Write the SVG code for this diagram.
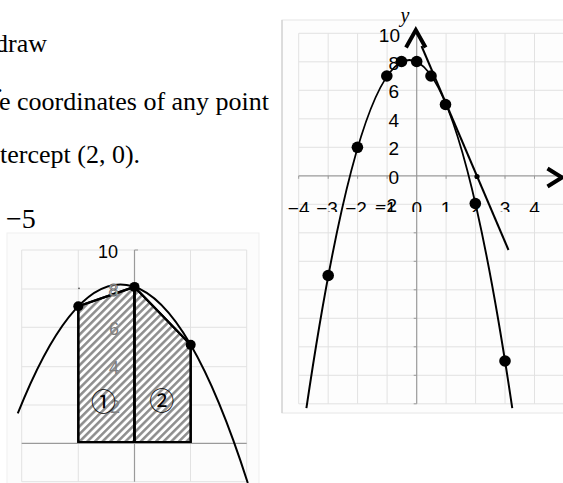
<svg xmlns="http://www.w3.org/2000/svg" width="563" height="483" viewBox="0 0 563 483">
<style>
.txt{font-family:"Liberation Serif","Times New Roman",serif;font-size:26px;fill:#000}
.grid{stroke:#e2e2e2;stroke-width:1;fill:none}
.axis{stroke:#9a9a9a;stroke-width:1.2;fill:none}
.curve{stroke:#000;stroke-width:2;fill:none}
.dot{fill:#000}
.lab{font-family:"Liberation Sans",Arial,sans-serif;font-size:19px;fill:#000}
.glab{font-family:"Liberation Sans",Arial,sans-serif;font-size:18px;fill:#808080;text-anchor:middle}
.circ{font-family:"Noto Sans CJK JP","DejaVu Sans",sans-serif;font-size:25px;fill:#000;text-anchor:middle}
.outline{stroke:#000;stroke-width:2.2;fill:url(#hatch);stroke-linejoin:round}
.arrow{stroke:#000;stroke-width:4;fill:none;stroke-linejoin:miter}
</style>
<defs>
<pattern id="hatch" patternUnits="userSpaceOnUse" width="5.4" height="5.4" patternTransform="rotate(45)">
<rect width="5.4" height="5.4" fill="#fff"/>
<line x1="1.3" y1="0" x2="1.3" y2="5.4" stroke="#8c8c8c" stroke-width="2.5"/>
</pattern>
<clipPath id="xlabclip"><rect x="270" y="190" width="293" height="22"/></clipPath>
</defs>
<rect width="563" height="483" fill="#fff"/>

<g id="text">
<text class="txt" x="-5" y="52">draw</text>
<text class="txt" x="-3.5" y="92">.</text>
<text class="txt" x="-1" y="110">e coordinates of any point</text>
<text class="txt" x="0" y="163">tercept (2, 0).</text>
<text class="txt" x="6" y="228" style="font-size:28px">−5</text>
</g>

<g id="left-graph">
<rect x="7" y="233" width="252" height="260" fill="#fcfcfc" stroke="#efefef"/>
<g class="grid">
<path d="M21.7 250V481.7M78.3 250V481.7M190.5 250V481.7M246.7 250V481.7"/>
<path d="M21.7 250H246.7M21.7 289H246.7M21.7 327.3H246.7M21.7 366.7H246.7M21.7 405H246.7M21.7 481.7H246.7"/>
</g>
<path class="axis" d="M21.7 443.3H246.7M134.5 250V481.7M134.5 250H138"/>
<polygon class="outline" points="78.3,442 78.3,306.2 134.5,286.9 134.5,442" stroke="none"/>
<polygon class="outline" points="134.5,442 134.5,286.9 190.7,344.85 190.7,442" stroke="none"/>
<text class="lab" x="108" y="257.5" text-anchor="middle" style="font-size:18px">10</text>
<text class="glab" x="114" y="335">6</text>
<text class="glab" x="114" y="373.5">4</text>
<text class="glab" x="115" y="413">2</text>
<polygon points="78.3,442 78.3,306.2 134.5,286.9 134.5,442" fill="none" stroke="#000" stroke-width="2.2"/>
<polygon points="134.5,442 134.5,286.9 190.7,344.85 190.7,442" fill="none" stroke="#000" stroke-width="2.2"/>
<path class="curve" d="M17.77 413.49Q132.79 124.4 247.8 483"/>
<text x="113.5" y="296" text-anchor="middle" style="font-family:'Liberation Sans',Arial,sans-serif;font-size:17px;fill:#fff;stroke:#666;stroke-width:0.9">8</text>
<circle cx="79" cy="288.3" r="0.9" fill="#555"/>
<circle class="dot" cx="78.3" cy="306.2" r="5"/>
<circle class="dot" cx="134.5" cy="286.9" r="5"/>
<circle class="dot" cx="190.7" cy="344.85" r="5"/>
<text class="circ" x="103.5" y="410.5">①</text>
<text class="circ" x="161.7" y="410">②</text>
</g>

<g id="right-graph">
<rect x="282" y="20" width="300" height="393" fill="#fdfdfd" stroke="#e6e6e6"/>
<path d="M282 20V413" stroke="#cfcfcf" stroke-width="1.2"/>
<g class="grid">
<path d="M298.7 33.3V403.8M328.2 33.3V403.8M357.6 33.3V403.8M387.1 33.3V403.8M446.1 33.3V403.8M475.6 33.3V403.8M505 33.3V403.8M534.5 33.3V403.8"/>
<path d="M298.7 33.3H563M298.7 61.8H563M298.7 90.3H563M298.7 118.8H563M298.7 147.3H563M298.7 204.3H563M298.7 232.8H563M298.7 261.3H563M298.7 289.8H563M298.7 318.3H563M298.7 346.8H563M298.7 375.3H563M298.7 403.8H563"/>
</g>
<path class="axis" d="M298.7 175.8H563M416.7 33.3V403.8"/>
<path d="M328.2 175.8v3M357.6 175.8v3M387.1 175.8v3M446.1 175.8v3M475.6 175.8v3M505 175.8v3M534.5 175.8v3M298.7 175.8v3" stroke="#9a9a9a" stroke-width="1"/>
<path d="M416.7 204.3h-3M416.7 232.8h-3M416.7 261.3h-3M416.7 289.8h-3M416.7 318.3h-3M416.7 346.8h-3M416.7 375.3h-3M416.7 403.8h-3" stroke="#9a9a9a" stroke-width="1"/>
<g class="lab" text-anchor="end">
<text x="400" y="41.5">10</text>
<text x="399" y="69.5">8</text>
<text x="399" y="98">6</text>
<text x="399" y="126.5">4</text>
<text x="399" y="155">2</text>
<text x="399" y="183.5">0</text>
</g>
<g class="lab" text-anchor="middle" clip-path="url(#xlabclip)">
<text x="298.7" y="214.5">−4</text>
<text x="327" y="214.5">−3</text>
<text x="356" y="214.5">−2</text>
<text x="385.5" y="214.5">−1</text>
<text x="397" y="212" text-anchor="end">−2</text>
<text x="416.7" y="214.5">0</text>
<text x="446.1" y="214.5">1</text>
<text x="475.6" y="214.5">2</text>
<text x="505" y="214.5">3</text>
<text x="534.5" y="214.5">4</text>
</g>
<path class="curve" d="M306.41 408.15Q409.34 -288.04 512.26 408.15"/>
<path class="curve" d="M421.5 46L508.5 250"/>
<circle cx="477" cy="176.5" r="2.6" fill="#000"/>
<g class="dot">
<circle cx="328.2" cy="275.5" r="5.8"/>
<circle cx="357.4" cy="147.3" r="5.8"/>
<circle cx="386.8" cy="76" r="5.8"/>
<circle cx="401.5" cy="61.5" r="5.8"/>
<circle cx="416.7" cy="61.5" r="5.8"/>
<circle cx="431" cy="76" r="5.8"/>
<circle cx="445.5" cy="104.5" r="5.8"/>
<circle cx="475.3" cy="203.5" r="5.8"/>
<circle cx="505" cy="361" r="5.8"/>
</g>
<polyline class="arrow" points="406,47.5 415.8,30 425.6,47.5"/>
<polyline class="arrow" points="547.5,168.5 562,177.5 547.5,186.5"/>
<text x="400.5" y="21.5" style="font-family:'Liberation Serif','Times New Roman',serif;font-style:italic;font-size:20px;fill:#000">y</text>
</g>
</svg>
